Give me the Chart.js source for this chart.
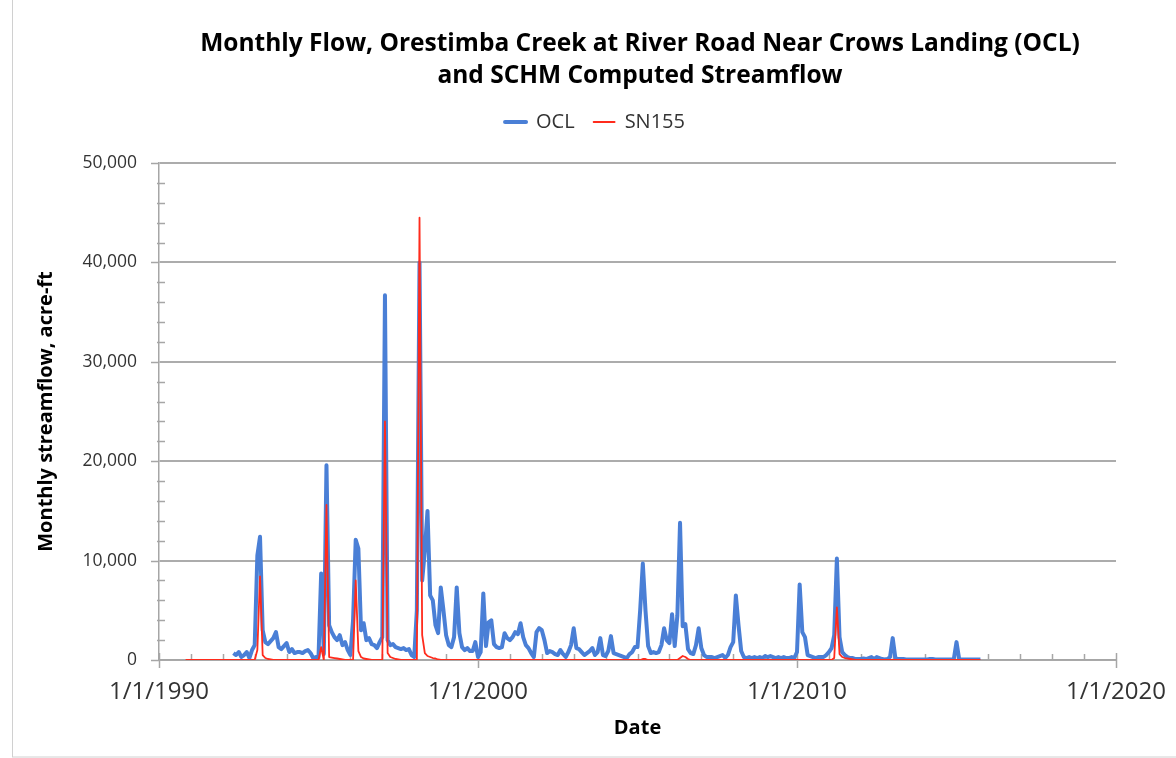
<!DOCTYPE html>
<html>
<head>
<meta charset="utf-8">
<script src="https://cdn.jsdelivr.net/npm/chart.js@4/dist/chart.umd.min.js"></script>
<style>
  html, body { margin: 0; padding: 0; background: #ffffff; overflow: hidden; }
  #wrap { width: 1176px; height: 758px; position: relative; }
</style>
</head>
<body>
<div id="wrap"><canvas id="chart" width="1176" height="758"></canvas></div>
<script>
// ---------------- DATA ----------------
const titleLines = ['Monthly Flow, Orestimba Creek at River Road Near Crows Landing (OCL)', 'and SCHM Computed Streamflow'];
const seriesNames = ['OCL', 'SN155'];
const xAxisTitle = 'Date';
const yAxisTitle = 'Monthly streamflow, acre-ft';
const xTickYears = [1990, 2000, 2010, 2020];
const yTickValues = [0, 10000, 20000, 30000, 40000, 50000];

// OCL: first value is April 1992 (monthly, acre-ft)
const oclStart = [1992, 4];
const oclValues = [
  700, 500, 800, 300, 500, 800,                                              // Apr-Sep 1992
  200, 1000, 1500, 10500, 12400, 3000, 1800, 1600, 1900, 2200, 2800, 1300,   // WY1993
  1100, 1400, 1700, 800, 1100, 700, 800, 800, 700, 900, 1000, 700,           // WY1994
  200, 300, 300, 8700, 600, 19600, 3500, 2800, 2300, 2000, 2500, 1500,       // WY1995
  1800, 1000, 500, 4000, 12100, 11200, 3000, 3700, 2000, 2200, 1600, 1500,   // WY1996
  1200, 1800, 2300, 36700, 2000, 1500, 1600, 1300, 1200, 1100, 1200, 1000,   // WY1997
  1100, 500, 300, 5000, 40000, 8000, 11000, 15000, 6500, 6000, 3500, 2700,   // WY1998
  7300, 5000, 2500, 1500, 1300, 2300, 7300, 2700, 1300, 1000, 1200, 900,     // WY1999
  900, 1800, 300, 800, 6700, 1400, 3800, 4000, 1600, 1300, 1200, 1300,       // WY2000
  2700, 2200, 2000, 2300, 2800, 2600, 3700, 2300, 1500, 1200, 700, 300,      // WY2001
  2800, 3200, 3000, 2000, 700, 900, 800, 600, 500, 1000, 600, 300,           // WY2002
  800, 1500, 3200, 1200, 1100, 800, 500, 700, 900, 1200, 500, 800,           // WY2003
  2200, 500, 400, 900, 2400, 700, 600, 500, 400, 300, 200, 600,              // WY2004
  800, 1300, 1300, 5000, 9700, 5000, 1400, 700, 800, 700, 800, 1500,         // WY2005
  3200, 2000, 1700, 4600, 1400, 4500, 13800, 3400, 3600, 1100, 700, 600,     // WY2006
  1500, 3200, 1200, 500, 300, 300, 300, 200, 300, 400, 500, 200,             // WY2007
  500, 1300, 1800, 6500, 3500, 900, 300, 200, 300, 200, 300, 200,            // WY2008
  300, 200, 400, 300, 400, 300, 200, 300, 200, 300, 200, 200,                // WY2009
  300, 200, 800, 7600, 2800, 2300, 500, 400, 300, 200, 300, 300,             // WY2010
  300, 500, 800, 1200, 2500, 10200, 2300, 800, 500, 300, 200, 200,           // WY2011
  100, 100, 100, 150, 100, 200, 300, 100, 300, 200, 100, 50,                 // WY2012
  100, 300, 2200, 200, 100, 100, 100, 50, 50, 50, 50, 50,                    // WY2013
  50, 50, 50, 50, 100, 100, 50, 50, 50, 50, 50, 50,                          // WY2014
  50, 100, 1800, 100, 50, 50, 50, 50, 50, 50, 50, 50                         // WY2015
];

// SN155: first value is October 1990 (monthly, acre-ft)
const sn155Start = [1990, 10];
const sn155Values = [
  0, 0, 0, 0, 0, 0, 0, 0, 0, 0, 0, 0,                                        // WY1991
  0, 0, 0, 0, 0, 0, 0, 0, 0, 0, 0, 0,                                        // WY1992
  0, 0, 0, 1000, 8400, 500, 200, 100, 50, 0, 0, 0,                           // WY1993
  0, 0, 0, 0, 0, 0, 0, 0, 0, 0, 0, 0,                                        // WY1994
  0, 0, 0, 1300, 0, 15600, 300, 250, 200, 150, 100, 50,                      // WY1995
  0, 0, 0, 0, 8000, 900, 300, 150, 100, 50, 0, 0,                            // WY1996
  0, 0, 0, 24000, 700, 300, 200, 100, 50, 0, 0, 0,                           // WY1997
  0, 0, 0, 0, 44500, 2500, 700, 400, 300, 200, 150, 50,                      // WY1998
  0, 0, 0, 0, 0, 0, 0, 0, 0, 0, 0, 0,                                        // WY1999
  0, 0, 0, 0, 0, 0, 0, 0, 0, 0, 0, 0,                                        // WY2000
  0, 0, 0, 0, 0, 0, 0, 0, 0, 0, 0, 0,                                        // WY2001
  0, 0, 0, 0, 0, 0, 0, 0, 0, 0, 0, 0,                                        // WY2002
  0, 0, 0, 0, 0, 0, 0, 0, 0, 0, 0, 0,                                        // WY2003
  0, 0, 0, 0, 0, 0, 0, 0, 0, 0, 0, 0,                                        // WY2004
  0, 0, 0, 0, 100, 100, 0, 0, 0, 0, 0, 0,                                    // WY2005
  0, 0, 0, 0, 0, 0, 200, 400, 300, 100, 0, 0,                                // WY2006
  0, 0, 0, 0, 0, 0, 0, 0, 0, 0, 0, 0,                                        // WY2007
  0, 0, 0, 0, 0, 0, 0, 0, 0, 0, 0, 0,                                        // WY2008
  0, 0, 0, 0, 0, 0, 0, 0, 0, 0, 0, 0,                                        // WY2009
  0, 0, 0, 0, 0, 0, 0, 0, 0, 0, 0, 0,                                        // WY2010
  0, 0, 0, 0, 200, 5300, 600, 300, 200, 150, 100, 50,                        // WY2011
  0, 0, 0, 0, 0, 0, 0, 0, 0, 0, 0, 0,                                        // WY2012
  0, 0, 0, 0, 0, 0, 0, 0, 0, 0, 0, 0,                                        // WY2013
  0, 0, 0, 0, 0, 0, 0, 0, 0, 0, 0, 0,                                        // WY2014
  0, 0, 0, 0, 0, 0, 0, 0, 0, 0, 0, 0                                         // WY2015
];

// ---------------- BUILD ----------------
// each monthly value is dated at the end of its month (decimal years)
function toPoints(start, values) {
  return values.map((v, i) => ({ x: start[0] + (start[1] + i) / 12, y: v }));
}

const FONT = "'Open Sans', 'DejaVu Sans', sans-serif";
const AXIS_GRAY = '#a6a6a6';
const TEXT_GRAY = '#333333';

const axisTicks = {
  id: 'axisTicks',
  beforeInit(chart) {
    // empty spacer between the legend and the plot area
    Chart.layouts.addBox(chart, {
      position: 'top',
      weight: 0,
      fullSize: true,
      options: {},
      width: 0,
      height: 0,
      update(maxWidth) { this.width = maxWidth; this.height = 21; },
      isHorizontal() { return true; },
      draw() {}
    });
  },
  beforeDraw(chart) {
    const { ctx } = chart;
    ctx.save();
    ctx.strokeStyle = '#d0d0d0';
    ctx.lineWidth = 1;
    ctx.strokeRect(12.5, -5, 1200, 762);
    ctx.restore();
  },
  beforeDatasetsDraw(chart) {
    const { ctx, chartArea, scales } = chart;
    const xs = scales.x, ys = scales.y;
    const ax = chartArea.left, ay = chartArea.bottom;
    ctx.save();
    ctx.strokeStyle = AXIS_GRAY;
    ctx.lineWidth = 1.5;
    const seg = (x1, y1, x2, y2) => { ctx.beginPath(); ctx.moveTo(x1, y1); ctx.lineTo(x2, y2); ctx.stroke(); };
    // y minor ticks (every 2,000) and major ticks
    const yMin = yTickValues[0], yMax = yTickValues[yTickValues.length - 1];
    const yMajor = yTickValues[1] - yTickValues[0];
    const yMinor = yMajor / 5;
    for (let v = yMin + yMinor; v < yMax; v += yMinor) {
      if (v % yMajor !== 0) { const p = Math.round(ys.getPixelForValue(v)) + 0.5; seg(ax - 2, p, ax + 6, p); }
    }
    yTickValues.forEach(v => { const p = Math.round(ys.getPixelForValue(v)) + 0.5; seg(ax - 8, p, ax, p); });
    // x minor ticks (yearly) and major ticks
    const x0 = xTickYears[0], x1 = xTickYears[xTickYears.length - 1];
    for (let yr = x0 + 1; yr < x1; yr++) {
      if ((yr - x0) % 10 !== 0) { const p = Math.round(xs.getPixelForValue(yr)) + 0.5; seg(p, ay - 6, p, ay); }
    }
    xTickYears.forEach(yr => { const p = Math.round(xs.getPixelForValue(yr)) + 0.5; seg(p, ay - 7, p, ay + 8); });
    ctx.restore();
  },
  afterLayout(chart) {
    // shift title / legend to their horizontal centres
    if (chart.titleBlock) { chart.titleBlock.left += 82; chart.titleBlock.right += 82; }
    if (chart.legend) { chart.legend.left += 37; chart.legend.right += 37; }
  }
};

const ctx = document.getElementById('chart').getContext('2d');
new Chart(ctx, {
  type: 'line',
  data: {
    datasets: [
      {
        label: seriesNames[0],
        data: toPoints(oclStart, oclValues),
        borderColor: '#4a7fd6',
        backgroundColor: '#4a7fd6',
        borderWidth: 4,
        pointRadius: 0,
        tension: 0,
        borderJoinStyle: 'round',
        order: 1
      },
      {
        label: seriesNames[1],
        data: toPoints(sn155Start, sn155Values),
        borderColor: '#ff2b1c',
        backgroundColor: '#ff2b1c',
        borderWidth: 1.8,
        pointRadius: 0,
        tension: 0,
        borderJoinStyle: 'round',
        order: 0
      }
    ]
  },
  options: {
    responsive: false,
    animation: false,
    devicePixelRatio: 1,
    layout: { padding: { left: 0, right: 60, top: 21, bottom: 0 } },
    plugins: {
      title: {
        display: true,
        text: titleLines,
        color: '#000000',
        font: { family: FONT, size: 24.5, weight: 'bold', lineHeight: '32px' },
        padding: { top: 7, bottom: 1 }
      },
      legend: {
        display: true,
        position: 'top',
        labels: {
          color: TEXT_GRAY,
          font: { family: FONT, size: 20 },
          boxWidth: 21,
          boxHeight: 0,
          padding: 19,
          sort: (a, b) => a.datasetIndex - b.datasetIndex
        }
      },
      tooltip: { enabled: false }
    },
    scales: {
      x: {
        type: 'linear',
        min: xTickYears[0],
        max: xTickYears[xTickYears.length - 1],
        afterFit: s => { s.height = 98; s.paddingLeft = 0; s.paddingRight = 0; },
        afterBuildTicks: s => { s.ticks = xTickYears.map(v => ({ value: v })); },
        ticks: {
          autoSkip: false,
          maxRotation: 0,
          padding: 18,
          color: TEXT_GRAY,
          font: { family: FONT, size: 24 },
          callback: v => '1/1/' + v
        },
        grid: { display: true, drawOnChartArea: false, drawTicks: false },
        border: { display: true, color: AXIS_GRAY, width: 1.5 },
        title: {
          display: true,
          text: xAxisTitle,
          color: '#000000',
          font: { family: FONT, size: 20, weight: 'bold' },
          padding: { top: 0, bottom: 18 }
        }
      },
      y: {
        min: yTickValues[0],
        max: yTickValues[yTickValues.length - 1],
        afterFit: s => { s.width = 159; },
        afterBuildTicks: s => { s.ticks = yTickValues.map(v => ({ value: v })); },
        ticks: {
          padding: 22,
          color: TEXT_GRAY,
          font: { family: FONT, size: 17.5 },
          callback: v => v.toLocaleString('en-US')
        },
        grid: { color: '#acacac', lineWidth: 2, drawTicks: false },
        border: { display: true, color: AXIS_GRAY, width: 1.5 },
        title: {
          display: true,
          text: yAxisTitle,
          color: '#000000',
          font: { family: FONT, size: 20, weight: 'bold' },
          padding: { top: 34, bottom: 0 }
        }
      }
    }
  },
  plugins: [axisTicks]
});
</script>
</body>
</html>
